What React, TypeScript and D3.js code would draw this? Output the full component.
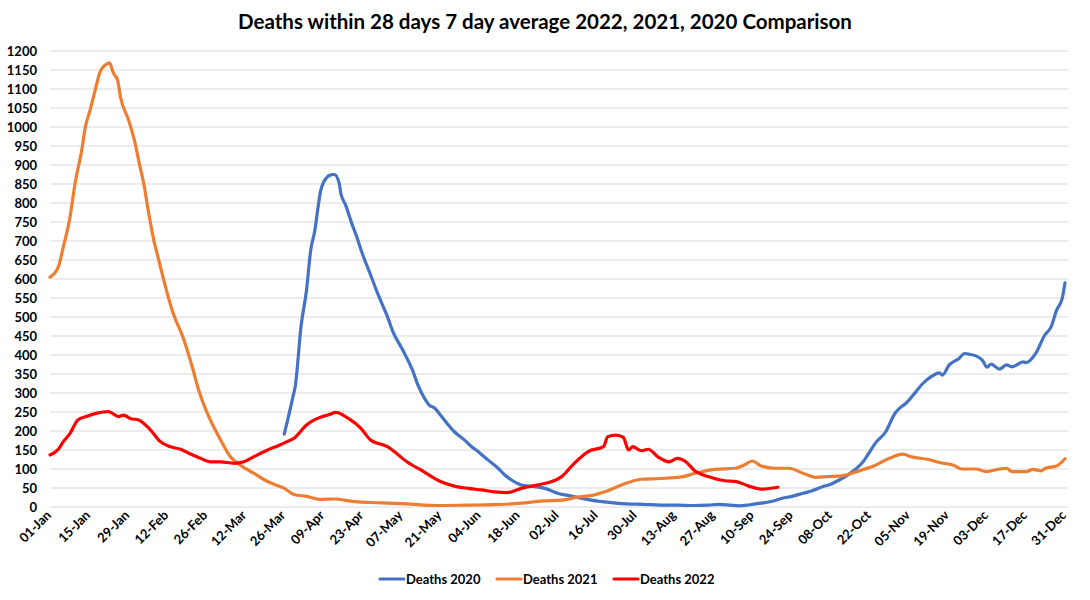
import React from 'react';
import * as d3 from 'd3';

// day-of-year (0 = 01-Jan) and 7 day average deaths
const deaths2020: [number, number][] = [
  [84, 192], [87, 286], [88, 320], [90, 474], [92, 571], [93.5, 676], [95, 729],
  [96, 782], [97, 830], [99, 865], [100.7, 874], [102, 875], [103.7, 852],
  [104.3, 825], [106, 795], [108, 751], [110, 711], [112, 667], [115, 610],
  [117.5, 562], [121, 501], [123, 461], [126.5, 413], [130, 360], [132, 320],
  [134, 290], [136, 268], [138, 260], [140, 242], [145, 198], [148.7, 176],
  [151, 160], [153.5, 146], [157, 124], [160.7, 102], [163, 85], [165.5, 71],
  [169, 58], [173, 54], [177.5, 49], [180, 42], [182, 36], [187, 29],
  [190.6, 23], [194, 18], [198, 14], [207, 8], [213, 7], [219, 5], [225, 5],
  [231, 4], [236, 5], [240, 7], [244, 5], [247, 3], [251, 6], [255, 10],
  [259, 15], [262.6, 23], [266, 28], [270, 36], [273, 42], [277, 53],
  [280, 60], [283, 71], [286, 84], [289, 100], [291.7, 120], [293.6, 141],
  [296, 168], [299.7, 198], [303, 246], [305, 262], [307, 273], [310.5, 303],
  [313, 325], [316, 343], [319, 353], [320, 347], [322.5, 374], [326, 391],
  [328, 404], [329.7, 402], [333, 394], [334.5, 385], [336, 368], [337.5, 376],
  [340.5, 363], [343, 374], [345, 369], [349, 382], [350, 380], [353.5, 404],
  [356.7, 452], [359, 474], [361, 518], [363, 549], [364, 590],
];

const deaths2021: [number, number][] = [
  [0, 605], [3, 632], [4.8, 685], [7.2, 764], [9, 852], [11.4, 940],
  [12.6, 997], [14.4, 1045], [16.2, 1097], [18, 1146], [19.8, 1163],
  [21.3, 1169], [22.8, 1141], [24.2, 1124], [25.4, 1075], [28.2, 1018],
  [30.6, 955], [32, 905], [33.6, 852], [35.4, 773], [37.2, 703], [39, 650],
  [40.8, 597], [43.8, 518], [48, 440], [51, 369], [53.3, 308], [56.4, 247],
  [58.7, 211], [61.8, 168], [64.7, 132], [68.3, 110], [73, 89], [78, 67],
  [82.7, 53], [84, 49], [87.5, 33], [92, 28], [97, 20], [102, 21], [109, 14],
  [118.6, 11], [128, 8], [139, 4], [150, 5], [159, 6], [169, 10], [177, 16],
  [183.5, 18], [190, 27], [194, 30], [199, 40], [205, 58], [212, 73],
  [219, 75], [227, 80], [231, 88], [238.6, 99], [245.8, 102], [248.8, 110],
  [251.8, 121], [255, 108], [260, 102], [265, 102], [270, 89], [274.6, 78],
  [279, 80], [284, 82], [291, 97], [296, 110], [301, 128], [305.8, 139],
  [309, 132], [315, 125], [319, 117], [324, 110], [327, 100], [332, 100],
  [335.7, 93], [340.5, 100], [343, 102], [345, 93], [350, 93], [352.5, 99],
  [355.5, 95], [357, 102], [361, 108], [364, 127],
];

const deaths2022: [number, number][] = [
  [0, 137], [3, 152], [4.8, 172], [7.2, 194], [10, 229], [13, 238],
  [16.8, 247], [21, 251], [24.5, 238], [26.4, 242], [28.8, 233], [31.8, 229],
  [36, 203], [39.6, 172], [43, 159], [46.8, 152], [50, 141], [54, 128],
  [57.5, 119], [61, 119], [66, 115], [69.5, 119], [73, 132], [78, 150],
  [82, 162], [85, 172], [87.5, 181], [92, 216], [97.7, 238], [100, 243],
  [102.5, 249], [107, 233], [111.5, 207], [115, 176], [121, 159], [128, 119],
  [134, 93], [140, 67], [145, 55], [150, 49], [154.7, 45], [159.5, 40],
  [164, 38], [169, 49], [176, 60], [180, 67], [183.5, 80], [188, 115],
  [193, 146], [198.5, 159], [200, 185], [203, 189], [205.6, 183], [207.5, 150],
  [209, 159], [212, 148], [214.6, 152], [218, 132], [222, 119], [225, 128],
  [228, 119], [231, 97], [236, 80], [242, 69], [246, 67], [250.6, 55],
  [255, 47], [261, 52],
];

const yTicks = d3.range(0, 1201, 50);
const xTickLabels = [
  '01-Jan', '15-Jan', '29-Jan', '12-Feb', '26-Feb', '12-Mar', '26-Mar',
  '09-Apr', '23-Apr', '07-May', '21-May', '04-Jun', '18-Jun', '02-Jul',
  '16-Jul', '30-Jul', '13-Aug', '27-Aug', '10-Sep', '24-Sep', '08-Oct',
  '22-Oct', '05-Nov', '19-Nov', '03-Dec', '17-Dec', '31-Dec',
];

const series = [
  { name: 'Deaths 2020', data: deaths2020, color: '#4472C4' },
  { name: 'Deaths 2021', data: deaths2021, color: '#ED7D31' },
  { name: 'Deaths 2022', data: deaths2022, color: '#FF0000' },
];

const width = 1090;
const height = 600;
const font = 'Lato, "Open Sans", sans-serif';

export default function App() {
  const x = d3.scaleLinear().domain([0, 364]).range([50, 1065]);
  const y = d3.scaleLinear().domain([0, 1200]).range([507, 51]);

  const line = d3
    .line<[number, number]>()
    .x((d) => x(d[0]))
    .y((d) => y(d[1]))
    .curve(d3.curveMonotoneX);

  return (
    <svg
      width={width}
      height={height}
      style={{ position: 'absolute', left: 0, top: 0, background: '#fff' }}
      fontFamily={font}
    >
      <rect width={width} height={height} fill="#fff" />
      <text x={545} y={29} textAnchor="middle" fontSize={20.5} fontWeight="bold" fill="#000">
        Deaths within 28 days 7 day average 2022, 2021, 2020 Comparison
      </text>

      {/* gridlines + y labels */}
      {yTicks.map((t) => (
        <g key={t}>
          <line x1={50} x2={1068} y1={y(t)} y2={y(t)} stroke="#d9d9d9" strokeWidth={1} />
          <text x={37} y={y(t)} dy="0.35em" textAnchor="end" fontSize={13} fontWeight="bold" fill="#000">
            {t}
          </text>
        </g>
      ))}

      {/* x labels every 14 days */}
      {xTickLabels.map((lab, i) => {
        const px = x(i * 14) + 2;
        const py = 516;
        return (
          <text
            key={lab}
            x={px}
            y={py}
            textAnchor="end"
            fontSize={13}
            fontWeight="bold"
            fill="#000"
            transform={`rotate(-45, ${px}, ${py})`}
          >
            {lab}
          </text>
        );
      })}

      {series.map((s) => (
        <path
          key={s.name}
          d={line(s.data) ?? ''}
          fill="none"
          stroke={s.color}
          strokeWidth={3.2}
          strokeLinejoin="round"
          strokeLinecap="round"
        />
      ))}

      {/* legend */}
      {series.map((s, i) => {
        const lx = 380 + i * 117;
        return (
          <g key={s.name}>
            <line x1={lx} x2={lx + 24} y1={579} y2={579} stroke={s.color} strokeWidth={3.2} strokeLinecap="round" />
            <text x={lx + 26} y={579} dy="0.35em" fontSize={13} fontWeight="bold" fill="#000">
              {s.name}
            </text>
          </g>
        );
      })}
    </svg>
  );
}
